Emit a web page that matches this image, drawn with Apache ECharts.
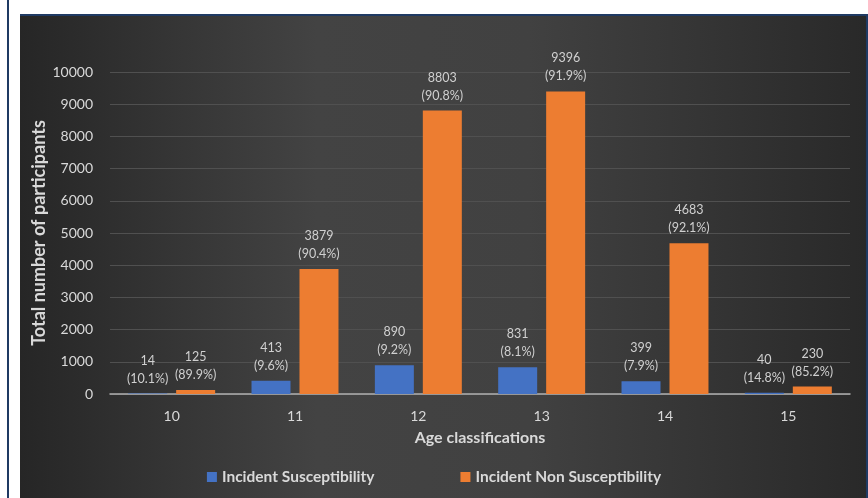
<!DOCTYPE html>
<html><head><meta charset="utf-8">
<script src="https://cdn.jsdelivr.net/npm/echarts@6/dist/echarts.min.js"></script>
<style>html,body{margin:0;padding:0;background:#fff}#c{width:868px;height:498px}</style>
</head><body><div id="c"></div>
<script>
var categories = ['10','11','12','13','14','15'];
var susceptible = [14, 413, 890, 831, 399, 40];
var nonSusceptible = [125, 3879, 8803, 9396, 4683, 230];
var susceptiblePct = ['10.1%','9.6%','9.2%','8.1%','7.9%','14.8%'];
var nonSusceptiblePct = ['89.9%','90.4%','90.8%','91.9%','92.1%','85.2%'];
var seriesNames = ['Incident Susceptibility','Incident Non Susceptibility'];

var FONT = 'Lato, "Open Sans", sans-serif';
var chart = echarts.init(document.getElementById('c'));
function lbl(pcts){
  return {show:true, position:'top', distance:6, color:'#d0d0d0', fontFamily:FONT, fontSize:12.5, lineHeight:18,
    formatter:function(p){return p.value + '\n(' + pcts[p.dataIndex] + ')';}};
}
chart.setOption({
  backgroundColor:'#ffffff',
  graphic:[
    {type:'rect', z:-10, shape:{x:7,y:0,width:2,height:498}, style:{fill:'#1f3a63'}},
    {type:'rect', z:-10, shape:{x:20,y:14,width:848,height:484}, style:{
      fill:new echarts.graphic.LinearGradient(0,0,1,0,[
        {offset:0,color:'#262626'},{offset:0.35,color:'#434343'},{offset:0.6,color:'#414141'},{offset:1,color:'#292929'}])}},
    {type:'rect', z:-9, shape:{x:20,y:14,width:848,height:2}, style:{fill:'#1f3a63'}},
    {type:'rect', z:-9, shape:{x:866,y:14,width:2,height:484}, style:{fill:'#1f3a63'}}
  ],
  grid:{left:110, right:18, top:72, bottom:104},
  legend:{data:seriesNames, bottom:8, left:'center', itemWidth:10, itemHeight:10, itemGap:86, icon:'rect',
    textStyle:{color:'#d9d9d9', fontFamily:FONT, fontSize:15.5, fontWeight:'bold'}},
  xAxis:{type:'category', data:categories, name:'Age classifications', nameLocation:'middle', nameGap:36,
    nameMoveOverlap:false,
    nameTextStyle:{color:'#d9d9d9', fontFamily:FONT, fontSize:16, fontWeight:'bold'},
    axisLine:{lineStyle:{color:'#b0b0b0', width:1.5}}, axisTick:{show:false},
    axisLabel:{color:'#d9d9d9', fontFamily:FONT, fontSize:14, margin:15}},
  yAxis:{type:'value', min:0, max:10000, interval:1000, name:'Total number of participants', nameLocation:'middle', nameGap:62,
    nameMoveOverlap:false,
    nameTextStyle:{color:'#d9d9d9', fontFamily:FONT, fontSize:18, fontWeight:'bold'},
    axisLine:{show:false}, axisTick:{show:false},
    axisLabel:{color:'#d9d9d9', fontFamily:FONT, fontSize:14, margin:17, formatter:function(v){return String(v);}},
    splitLine:{lineStyle:{color:'#505050', width:1}}},
  series:[
    {name:seriesNames[0], type:'bar', data:susceptible, barWidth:39, barGap:'23%',
     itemStyle:{color:'#4472c4'}, label:lbl(susceptiblePct)},
    {name:seriesNames[1], type:'bar', data:nonSusceptible, barWidth:39,
     itemStyle:{color:'#ed7d31'}, label:lbl(nonSusceptiblePct)}
  ]
});
</script></body></html>
